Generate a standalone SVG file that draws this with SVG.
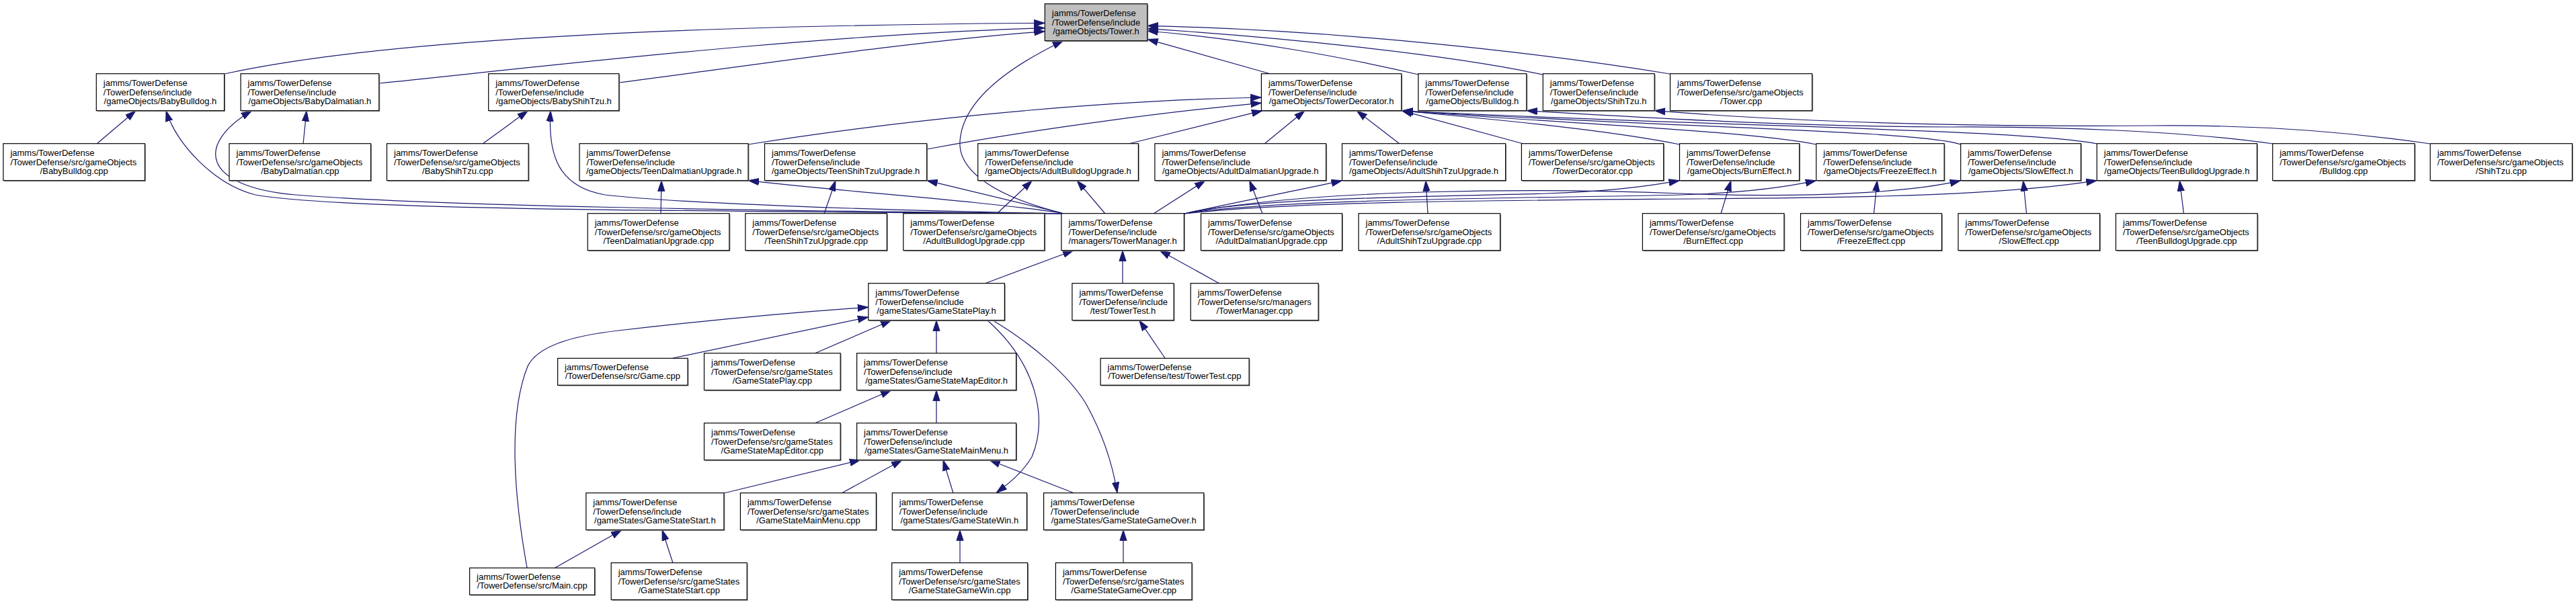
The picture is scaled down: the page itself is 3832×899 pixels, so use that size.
<svg xmlns="http://www.w3.org/2000/svg" width="3832" height="899" viewBox="0 0 3832 899">
<style>
.s{fill:#9a9a9a;stroke:none}
.b{fill:#ffffff;stroke:#000000;stroke-width:1.2}
.g{fill:#bfbfbf}
.t{font-family:"Liberation Sans",Arial,Helvetica,sans-serif;font-size:13px;fill:#000000}
.m{text-anchor:middle}
.e{fill:none;stroke:#191970;stroke-width:1.2}
</style>
<defs>
<marker id="ah" markerUnits="userSpaceOnUse" markerWidth="16" markerHeight="12" viewBox="0 0 14 9" refX="14" refY="4.5" orient="auto">
<path d="M0,0 L14,4.5 L0,9 z" fill="#191970" stroke="#191970" stroke-width="0.8"/>
</marker>
</defs>
<rect x="0" y="0" width="3832" height="899" fill="#ffffff"/>
<g id="edges" marker-end="url(#ah)">
<path class="e" marker-end="url(#ah)" d="M334,110 C560,60 1000,38 1554.3,34.3"/>
<path class="e" marker-end="url(#ah)" d="M564,124 C800,100 1200,52 1554.3,41.7"/>
<path class="e" marker-end="url(#ah)" d="M921,123 C1100,100 1350,62 1554.3,46.7"/>
<path class="e" marker-end="url(#ah)" d="M1890,110 L1706.7,58.3"/>
<path class="e" marker-end="url(#ah)" d="M2110,111 C2000,85 1850,58 1706.7,46"/>
<path class="e" marker-end="url(#ah)" d="M2295,111 C2150,80 1900,55 1706.7,42.7"/>
<path class="e" marker-end="url(#ah)" d="M2484,110 C2300,80 2000,45 1706.7,38.3"/>
<path class="e" marker-end="url(#ah)" d="M1583,318 C1470,290 1425,250 1428,210 C1432,150 1500,100 1581.7,60.7"/>
<path class="e" marker-end="url(#ah)" d="M144,214 L202,164.7"/>
<path class="e" marker-end="url(#ah)" d="M1579,318 C1000,314 500,312 380,290 C320,275 262,215 247,164.7"/>
<path class="e" marker-end="url(#ah)" d="M451,214 L456,164.7"/>
<path class="e" marker-end="url(#ah)" d="M1579,318 C1100,313 650,307 440,290 C300,278 290,215 374.7,164.7"/>
<path class="e" marker-end="url(#ah)" d="M718,214 L785.5,164.7"/>
<path class="e" marker-end="url(#ah)" d="M1579,318 C1300,313 1000,302 900,290 C830,278 815,230 819,164.7"/>
<path class="e" marker-end="url(#ah)" d="M1113,215 C1300,185 1600,150 1876.4,145"/>
<path class="e" marker-end="url(#ah)" d="M1379,222 C1550,190 1750,165 1876.4,153.3"/>
<path class="e" marker-end="url(#ah)" d="M1679,214 L1878,164.7"/>
<path class="e" marker-end="url(#ah)" d="M1881,214 L1941,164.7"/>
<path class="e" marker-end="url(#ah)" d="M2082,214 L2018,164.7"/>
<path class="e" marker-end="url(#ah)" d="M2266,214 L2085,164.7"/>
<path class="e" marker-end="url(#ah)" d="M2498.5,215 C2400,195 2250,180 2086,165"/>
<path class="e" marker-end="url(#ah)" d="M2702,215 C2600,195 2350,185 2086,165"/>
<path class="e" marker-end="url(#ah)" d="M2917,215 C2860,195 2500,190 2086,165"/>
<path class="e" marker-end="url(#ah)" d="M3120,214 C3000,192 2600,190 2086,165"/>
<path class="e" marker-end="url(#ah)" d="M3381,214 C3250,195 3050,188 2900,189 C2650,188 2450,175 2270.8,164.7"/>
<path class="e" marker-end="url(#ah)" d="M3615,214 C3450,190 3300,186 3200,187 C2900,189 2650,180 2461.2,164.7"/>
<path class="e" marker-end="url(#ah)" d="M1762,318 C1850,298 1950,280 1996.5,268.7"/>
<path class="e" marker-end="url(#ah)" d="M1762,318 C1850,295 2150,292 2300,288 C2400,285 2460,276 2498.5,268.7"/>
<path class="e" marker-end="url(#ah)" d="M1762,318 C1900,295 2300,295 2500,290 C2600,287 2660,278 2701.8,268.7"/>
<path class="e" marker-end="url(#ah)" d="M1762,318 C1950,280 2300,280 2500,288 C2700,296 2850,285 2916.7,268.7"/>
<path class="e" marker-end="url(#ah)" d="M1762,318 C2000,292 2500,300 2800,292 C2950,288 3050,280 3119.3,268.7"/>
<path class="e" marker-end="url(#ah)" d="M1579,317 C1450,298 1250,285 1113,268.7"/>
<path class="e" marker-end="url(#ah)" d="M1579,317 L1378.7,268.7"/>
<path class="e" marker-end="url(#ah)" d="M1644,318 L1602,268.7"/>
<path class="e" marker-end="url(#ah)" d="M1716,318 L1793,268.7"/>
<path class="e" marker-end="url(#ah)" d="M983,318 L984,268.7"/>
<path class="e" marker-end="url(#ah)" d="M1226,318 L1243,268.7"/>
<path class="e" marker-end="url(#ah)" d="M1483,318 L1535.5,268.7"/>
<path class="e" marker-end="url(#ah)" d="M1878,318 L1858.7,268.7"/>
<path class="e" marker-end="url(#ah)" d="M2124,318 L2121,268.7"/>
<path class="e" marker-end="url(#ah)" d="M2560,318 L2575,268.7"/>
<path class="e" marker-end="url(#ah)" d="M2787.5,318 L2792.4,268.7"/>
<path class="e" marker-end="url(#ah)" d="M3014.6,318 L3009.7,268.7"/>
<path class="e" marker-end="url(#ah)" d="M3248.5,318 L3242.4,268.7"/>
<path class="e" marker-end="url(#ah)" d="M1465,422 L1597,372.7"/>
<path class="e" marker-end="url(#ah)" d="M1670,422 L1670,372.7"/>
<path class="e" marker-end="url(#ah)" d="M1814,422 L1725,372.7"/>
<path class="e" marker-end="url(#ah)" d="M1001,533 L1291.8,472"/>
<path class="e" marker-end="url(#ah)" d="M784,845 C765,740 755,620 785,545 C800,515 850,500 920,492 C1050,477 1180,465 1291.8,457.3"/>
<path class="e" marker-end="url(#ah)" d="M1212,526 L1326,476.7"/>
<path class="e" marker-end="url(#ah)" d="M1393,526 L1393,476.7"/>
<path class="e" marker-end="url(#ah)" d="M1469,477 C1540,540 1560,620 1535,680 C1520,705 1500,720 1482,733.7"/>
<path class="e" marker-end="url(#ah)" d="M1479,478 C1540,515 1590,560 1615,600 C1640,645 1655,690 1662,733.7"/>
<path class="e" marker-end="url(#ah)" d="M1212,630 L1326,580.7"/>
<path class="e" marker-end="url(#ah)" d="M1393,630 L1393,580.7"/>
<path class="e" marker-end="url(#ah)" d="M1077,734 L1280,684.7"/>
<path class="e" marker-end="url(#ah)" d="M1252,734 L1342,684.7"/>
<path class="e" marker-end="url(#ah)" d="M1418,734 L1403,684.7"/>
<path class="e" marker-end="url(#ah)" d="M1598,734 L1472,684.7"/>
<path class="e" marker-end="url(#ah)" d="M826,845 L925,788.7"/>
<path class="e" marker-end="url(#ah)" d="M1001,838 L985,788.7"/>
<path class="e" marker-end="url(#ah)" d="M1428,838 L1428,788.7"/>
<path class="e" marker-end="url(#ah)" d="M1671,838 L1671,788.7"/>
<path class="e" marker-end="url(#ah)" d="M1733,533 L1694.7,476.7"/>
</g>
<g id="nodes">
<g id="tower_h"><rect class="s" x="1555.8" y="7.2" width="152.4" height="55"/><rect class="b g" x="1554.3" y="5.7" width="152.4" height="55"/><text class="t" x="1564.8" y="24">jamms/TowerDefense</text><text class="t" x="1564.8" y="37.5">/TowerDefense/include</text><text class="t m" x="1630.5" y="51">/gameObjects/Tower.h</text></g>
<g id="babybulldog_h"><rect class="s" x="144.8" y="111.2" width="190.3" height="55"/><rect class="b" x="143.3" y="109.7" width="190.3" height="55"/><text class="t" x="153.8" y="128">jamms/TowerDefense</text><text class="t" x="153.8" y="141.5">/TowerDefense/include</text><text class="t m" x="238.45" y="155">/gameObjects/BabyBulldog.h</text></g>
<g id="babydalmatian_h"><rect class="s" x="359.6" y="111.2" width="205.7" height="55"/><rect class="b" x="358.1" y="109.7" width="205.7" height="55"/><text class="t" x="368.6" y="128">jamms/TowerDefense</text><text class="t" x="368.6" y="141.5">/TowerDefense/include</text><text class="t m" x="460.95" y="155">/gameObjects/BabyDalmatian.h</text></g>
<g id="babyshihtzu_h"><rect class="s" x="728.2" y="111.2" width="194.1" height="55"/><rect class="b" x="726.7" y="109.7" width="194.1" height="55"/><text class="t" x="737.2" y="128">jamms/TowerDefense</text><text class="t" x="737.2" y="141.5">/TowerDefense/include</text><text class="t m" x="823.75" y="155">/gameObjects/BabyShihTzu.h</text></g>
<g id="towerdecorator_h"><rect class="s" x="1877.9" y="111.2" width="208.3" height="55"/><rect class="b" x="1876.4" y="109.7" width="208.3" height="55"/><text class="t" x="1886.9" y="128">jamms/TowerDefense</text><text class="t" x="1886.9" y="141.5">/TowerDefense/include</text><text class="t m" x="1980.55" y="155">/gameObjects/TowerDecorator.h</text></g>
<g id="bulldog_h"><rect class="s" x="2111.3" y="111.2" width="161" height="55"/><rect class="b" x="2109.8" y="109.7" width="161" height="55"/><text class="t" x="2120.3" y="128">jamms/TowerDefense</text><text class="t" x="2120.3" y="141.5">/TowerDefense/include</text><text class="t m" x="2190.3" y="155">/gameObjects/Bulldog.h</text></g>
<g id="shihtzu_h"><rect class="s" x="2296.8" y="111.2" width="165.9" height="55"/><rect class="b" x="2295.3" y="109.7" width="165.9" height="55"/><text class="t" x="2305.8" y="128">jamms/TowerDefense</text><text class="t" x="2305.8" y="141.5">/TowerDefense/include</text><text class="t m" x="2378.25" y="155">/gameObjects/ShihTzu.h</text></g>
<g id="tower_cpp"><rect class="s" x="2486" y="111.2" width="211.2" height="55"/><rect class="b" x="2484.5" y="109.7" width="211.2" height="55"/><text class="t" x="2495" y="128">jamms/TowerDefense</text><text class="t" x="2495" y="141.5">/TowerDefense/src/gameObjects</text><text class="t m" x="2590.1" y="155">/Tower.cpp</text></g>
<g id="babybulldog_cpp"><rect class="s" x="6.4" y="215.2" width="210.6" height="55"/><rect class="b" x="4.9" y="213.7" width="210.6" height="55"/><text class="t" x="15.4" y="232">jamms/TowerDefense</text><text class="t" x="15.4" y="245.5">/TowerDefense/src/gameObjects</text><text class="t m" x="110.2" y="259">/BabyBulldog.cpp</text></g>
<g id="babydalmatian_cpp"><rect class="s" x="342.5" y="215.2" width="210.6" height="55"/><rect class="b" x="341" y="213.7" width="210.6" height="55"/><text class="t" x="351.5" y="232">jamms/TowerDefense</text><text class="t" x="351.5" y="245.5">/TowerDefense/src/gameObjects</text><text class="t m" x="446.3" y="259">/BabyDalmatian.cpp</text></g>
<g id="babyshihtzu_cpp"><rect class="s" x="577" y="215.2" width="210.6" height="55"/><rect class="b" x="575.5" y="213.7" width="210.6" height="55"/><text class="t" x="586" y="232">jamms/TowerDefense</text><text class="t" x="586" y="245.5">/TowerDefense/src/gameObjects</text><text class="t m" x="680.8" y="259">/BabyShihTzu.cpp</text></g>
<g id="teendalmatianupgrade_h"><rect class="s" x="863.5" y="215.2" width="251" height="55"/><rect class="b" x="862" y="213.7" width="251" height="55"/><text class="t" x="872.5" y="232">jamms/TowerDefense</text><text class="t" x="872.5" y="245.5">/TowerDefense/include</text><text class="t m" x="987.5" y="259">/gameObjects/TeenDalmatianUpgrade.h</text></g>
<g id="teenshihtzuupgrade_h"><rect class="s" x="1139" y="215.2" width="241.2" height="55"/><rect class="b" x="1137.5" y="213.7" width="241.2" height="55"/><text class="t" x="1148" y="232">jamms/TowerDefense</text><text class="t" x="1148" y="245.5">/TowerDefense/include</text><text class="t m" x="1258.1" y="259">/gameObjects/TeenShihTzuUpgrade.h</text></g>
<g id="adultbulldogupgrade_h"><rect class="s" x="1456.2" y="215.2" width="238.7" height="55"/><rect class="b" x="1454.7" y="213.7" width="238.7" height="55"/><text class="t" x="1465.2" y="232">jamms/TowerDefense</text><text class="t" x="1465.2" y="245.5">/TowerDefense/include</text><text class="t m" x="1574.05" y="259">/gameObjects/AdultBulldogUpgrade.h</text></g>
<g id="adultdalmatianupgrade_h"><rect class="s" x="1719.4" y="215.2" width="254.7" height="55"/><rect class="b" x="1717.9" y="213.7" width="254.7" height="55"/><text class="t" x="1728.4" y="232">jamms/TowerDefense</text><text class="t" x="1728.4" y="245.5">/TowerDefense/include</text><text class="t m" x="1845.25" y="259">/gameObjects/AdultDalmatianUpgrade.h</text></g>
<g id="adultshihtzuupgrade_h"><rect class="s" x="1998" y="215.2" width="243.1" height="55"/><rect class="b" x="1996.5" y="213.7" width="243.1" height="55"/><text class="t" x="2007" y="232">jamms/TowerDefense</text><text class="t" x="2007" y="245.5">/TowerDefense/include</text><text class="t m" x="2118.05" y="259">/gameObjects/AdultShihTzuUpgrade.h</text></g>
<g id="towerdecorator_cpp"><rect class="s" x="2264.9" y="215.2" width="211.3" height="55"/><rect class="b" x="2263.4" y="213.7" width="211.3" height="55"/><text class="t" x="2273.9" y="232">jamms/TowerDefense</text><text class="t" x="2273.9" y="245.5">/TowerDefense/src/gameObjects</text><text class="t m" x="2369.05" y="259">/TowerDecorator.cpp</text></g>
<g id="burneffect_h"><rect class="s" x="2500" y="215.2" width="178.2" height="55"/><rect class="b" x="2498.5" y="213.7" width="178.2" height="55"/><text class="t" x="2509" y="232">jamms/TowerDefense</text><text class="t" x="2509" y="245.5">/TowerDefense/include</text><text class="t m" x="2587.6" y="259">/gameObjects/BurnEffect.h</text></g>
<g id="freezeeffect_h"><rect class="s" x="2703.3" y="215.2" width="190.4" height="55"/><rect class="b" x="2701.8" y="213.7" width="190.4" height="55"/><text class="t" x="2712.3" y="232">jamms/TowerDefense</text><text class="t" x="2712.3" y="245.5">/TowerDefense/include</text><text class="t m" x="2797" y="259">/gameObjects/FreezeEffect.h</text></g>
<g id="sloweffect_h"><rect class="s" x="2918.2" y="215.2" width="178.8" height="55"/><rect class="b" x="2916.7" y="213.7" width="178.8" height="55"/><text class="t" x="2927.2" y="232">jamms/TowerDefense</text><text class="t" x="2927.2" y="245.5">/TowerDefense/include</text><text class="t m" x="3006.1" y="259">/gameObjects/SlowEffect.h</text></g>
<g id="teenbulldogupgrade_h"><rect class="s" x="3120.8" y="215.2" width="238.2" height="55"/><rect class="b" x="3119.3" y="213.7" width="238.2" height="55"/><text class="t" x="3129.8" y="232">jamms/TowerDefense</text><text class="t" x="3129.8" y="245.5">/TowerDefense/include</text><text class="t m" x="3238.4" y="259">/gameObjects/TeenBulldogUpgrade.h</text></g>
<g id="bulldog_cpp"><rect class="s" x="3382.2" y="215.2" width="211.3" height="55"/><rect class="b" x="3380.7" y="213.7" width="211.3" height="55"/><text class="t" x="3391.2" y="232">jamms/TowerDefense</text><text class="t" x="3391.2" y="245.5">/TowerDefense/src/gameObjects</text><text class="t m" x="3486.35" y="259">/Bulldog.cpp</text></g>
<g id="shihtzu_cpp"><rect class="s" x="3616.7" y="215.2" width="211.2" height="55"/><rect class="b" x="3615.2" y="213.7" width="211.2" height="55"/><text class="t" x="3625.7" y="232">jamms/TowerDefense</text><text class="t" x="3625.7" y="245.5">/TowerDefense/src/gameObjects</text><text class="t m" x="3720.8" y="259">/ShihTzu.cpp</text></g>
<g id="teendalmatianupgrade_cpp"><rect class="s" x="875.7" y="319.2" width="210.7" height="55"/><rect class="b" x="874.2" y="317.7" width="210.7" height="55"/><text class="t" x="884.7" y="336">jamms/TowerDefense</text><text class="t" x="884.7" y="349.5">/TowerDefense/src/gameObjects</text><text class="t m" x="979.55" y="363">/TeenDalmatianUpgrade.cpp</text></g>
<g id="teenshihtzuupgrade_cpp"><rect class="s" x="1110.3" y="319.2" width="210.6" height="55"/><rect class="b" x="1108.8" y="317.7" width="210.6" height="55"/><text class="t" x="1119.3" y="336">jamms/TowerDefense</text><text class="t" x="1119.3" y="349.5">/TowerDefense/src/gameObjects</text><text class="t m" x="1214.1" y="363">/TeenShihTzuUpgrade.cpp</text></g>
<g id="adultbulldogupgrade_cpp"><rect class="s" x="1345.3" y="319.2" width="210" height="55"/><rect class="b" x="1343.8" y="317.7" width="210" height="55"/><text class="t" x="1354.3" y="336">jamms/TowerDefense</text><text class="t" x="1354.3" y="349.5">/TowerDefense/src/gameObjects</text><text class="t m" x="1448.8" y="363">/AdultBulldogUpgrade.cpp</text></g>
<g id="towermanager_h"><rect class="s" x="1580.4" y="319.2" width="182.5" height="55"/><rect class="b" x="1578.9" y="317.7" width="182.5" height="55"/><text class="t" x="1589.4" y="336">jamms/TowerDefense</text><text class="t" x="1589.4" y="349.5">/TowerDefense/include</text><text class="t m" x="1670.15" y="363">/managers/TowerManager.h</text></g>
<g id="adultdalmatianupgrade_cpp"><rect class="s" x="1788" y="319.2" width="210" height="55"/><rect class="b" x="1786.5" y="317.7" width="210" height="55"/><text class="t" x="1797" y="336">jamms/TowerDefense</text><text class="t" x="1797" y="349.5">/TowerDefense/src/gameObjects</text><text class="t m" x="1891.5" y="363">/AdultDalmatianUpgrade.cpp</text></g>
<g id="adultshihtzuupgrade_cpp"><rect class="s" x="2022.5" y="319.2" width="210.6" height="55"/><rect class="b" x="2021" y="317.7" width="210.6" height="55"/><text class="t" x="2031.5" y="336">jamms/TowerDefense</text><text class="t" x="2031.5" y="349.5">/TowerDefense/src/gameObjects</text><text class="t m" x="2126.3" y="363">/AdultShihTzuUpgrade.cpp</text></g>
<g id="burneffect_cpp"><rect class="s" x="2444.9" y="319.2" width="210.6" height="55"/><rect class="b" x="2443.4" y="317.7" width="210.6" height="55"/><text class="t" x="2453.9" y="336">jamms/TowerDefense</text><text class="t" x="2453.9" y="349.5">/TowerDefense/src/gameObjects</text><text class="t m" x="2548.7" y="363">/BurnEffect.cpp</text></g>
<g id="freezeeffect_cpp"><rect class="s" x="2680" y="319.2" width="210" height="55"/><rect class="b" x="2678.5" y="317.7" width="210" height="55"/><text class="t" x="2689" y="336">jamms/TowerDefense</text><text class="t" x="2689" y="349.5">/TowerDefense/src/gameObjects</text><text class="t m" x="2783.5" y="363">/FreezeEffect.cpp</text></g>
<g id="sloweffect_cpp"><rect class="s" x="2914.5" y="319.2" width="210.6" height="55"/><rect class="b" x="2913" y="317.7" width="210.6" height="55"/><text class="t" x="2923.5" y="336">jamms/TowerDefense</text><text class="t" x="2923.5" y="349.5">/TowerDefense/src/gameObjects</text><text class="t m" x="3018.3" y="363">/SlowEffect.cpp</text></g>
<g id="teenbulldogupgrade_cpp"><rect class="s" x="3149" y="319.2" width="210.6" height="55"/><rect class="b" x="3147.5" y="317.7" width="210.6" height="55"/><text class="t" x="3158" y="336">jamms/TowerDefense</text><text class="t" x="3158" y="349.5">/TowerDefense/src/gameObjects</text><text class="t m" x="3252.8" y="363">/TeenBulldogUpgrade.cpp</text></g>
<g id="gamestateplay_h"><rect class="s" x="1293.3" y="423.2" width="202.6" height="55"/><rect class="b" x="1291.8" y="421.7" width="202.6" height="55"/><text class="t" x="1302.3" y="440">jamms/TowerDefense</text><text class="t" x="1302.3" y="453.5">/TowerDefense/include</text><text class="t m" x="1393.1" y="467">/gameStates/GameStatePlay.h</text></g>
<g id="towertest_h"><rect class="s" x="1596.4" y="423.2" width="151.2" height="55"/><rect class="b" x="1594.9" y="421.7" width="151.2" height="55"/><text class="t" x="1605.4" y="440">jamms/TowerDefense</text><text class="t" x="1605.4" y="453.5">/TowerDefense/include</text><text class="t m" x="1670.5" y="467">/test/TowerTest.h</text></g>
<g id="towermanager_cpp"><rect class="s" x="1772.7" y="423.2" width="190" height="55"/><rect class="b" x="1771.2" y="421.7" width="190" height="55"/><text class="t" x="1781.7" y="440">jamms/TowerDefense</text><text class="t" x="1781.7" y="453.5">/TowerDefense/src/managers</text><text class="t m" x="1866.2" y="467">/TowerManager.cpp</text></g>
<g id="game_cpp"><rect class="s" x="831.1" y="534.8" width="193.4" height="40"/><rect class="b" x="829.6" y="533.3" width="193.4" height="40"/><text class="t" x="840.1" y="550.8">jamms/TowerDefense</text><text class="t m" x="926.3" y="564.3">/TowerDefense/src/Game.cpp</text></g>
<g id="gamestateplay_cpp"><rect class="s" x="1049" y="527.2" width="202.7" height="55"/><rect class="b" x="1047.5" y="525.7" width="202.7" height="55"/><text class="t" x="1058" y="544">jamms/TowerDefense</text><text class="t" x="1058" y="557.5">/TowerDefense/src/gameStates</text><text class="t m" x="1148.85" y="571">/GameStatePlay.cpp</text></g>
<g id="gamestatemapeditor_h"><rect class="s" x="1276.1" y="527.2" width="237" height="55"/><rect class="b" x="1274.6" y="525.7" width="237" height="55"/><text class="t" x="1285.1" y="544">jamms/TowerDefense</text><text class="t" x="1285.1" y="557.5">/TowerDefense/include</text><text class="t m" x="1393.1" y="571">/gameStates/GameStateMapEditor.h</text></g>
<g id="towertest_cpp"><rect class="s" x="1638.6" y="534.8" width="221" height="40"/><rect class="b" x="1637.1" y="533.3" width="221" height="40"/><text class="t" x="1647.6" y="550.8">jamms/TowerDefense</text><text class="t m" x="1747.6" y="564.3">/TowerDefense/test/TowerTest.cpp</text></g>
<g id="gamestatemapeditor_cpp"><rect class="s" x="1049" y="631.2" width="202.7" height="55"/><rect class="b" x="1047.5" y="629.7" width="202.7" height="55"/><text class="t" x="1058" y="648">jamms/TowerDefense</text><text class="t" x="1058" y="661.5">/TowerDefense/src/gameStates</text><text class="t m" x="1148.85" y="675">/GameStateMapEditor.cpp</text></g>
<g id="gamestatemainmenu_h"><rect class="s" x="1276.1" y="631.2" width="237" height="55"/><rect class="b" x="1274.6" y="629.7" width="237" height="55"/><text class="t" x="1285.1" y="648">jamms/TowerDefense</text><text class="t" x="1285.1" y="661.5">/TowerDefense/include</text><text class="t m" x="1393.1" y="675">/gameStates/GameStateMainMenu.h</text></g>
<g id="gamestatestart_h"><rect class="s" x="873.3" y="735.2" width="205.1" height="55"/><rect class="b" x="871.8" y="733.7" width="205.1" height="55"/><text class="t" x="882.3" y="752">jamms/TowerDefense</text><text class="t" x="882.3" y="765.5">/TowerDefense/include</text><text class="t m" x="974.35" y="779">/gameStates/GameStateStart.h</text></g>
<g id="gamestatemainmenu_cpp"><rect class="s" x="1102.9" y="735.2" width="202" height="55"/><rect class="b" x="1101.4" y="733.7" width="202" height="55"/><text class="t" x="1111.9" y="752">jamms/TowerDefense</text><text class="t" x="1111.9" y="765.5">/TowerDefense/src/gameStates</text><text class="t m" x="1202.4" y="779">/GameStateMainMenu.cpp</text></g>
<g id="gamestatewin_h"><rect class="s" x="1328.8" y="735.2" width="200.2" height="55"/><rect class="b" x="1327.3" y="733.7" width="200.2" height="55"/><text class="t" x="1337.8" y="752">jamms/TowerDefense</text><text class="t" x="1337.8" y="765.5">/TowerDefense/include</text><text class="t m" x="1427.4" y="779">/gameStates/GameStateWin.h</text></g>
<g id="gamestategameover_h"><rect class="s" x="1554.1" y="735.2" width="238.2" height="55"/><rect class="b" x="1552.6" y="733.7" width="238.2" height="55"/><text class="t" x="1563.1" y="752">jamms/TowerDefense</text><text class="t" x="1563.1" y="765.5">/TowerDefense/include</text><text class="t m" x="1671.7" y="779">/gameStates/GameStateGameOver.h</text></g>
<g id="main_cpp"><rect class="s" x="700.1" y="846.8" width="186.1" height="40"/><rect class="b" x="698.6" y="845.3" width="186.1" height="40"/><text class="t" x="709.1" y="862.8">jamms/TowerDefense</text><text class="t m" x="791.65" y="876.3">/TowerDefense/src/Main.cpp</text></g>
<g id="gamestatestart_cpp"><rect class="s" x="910.7" y="839.2" width="202" height="55"/><rect class="b" x="909.2" y="837.7" width="202" height="55"/><text class="t" x="919.7" y="856">jamms/TowerDefense</text><text class="t" x="919.7" y="869.5">/TowerDefense/src/gameStates</text><text class="t m" x="1010.2" y="883">/GameStateStart.cpp</text></g>
<g id="gamestategamewin_cpp"><rect class="s" x="1328.2" y="839.2" width="202" height="55"/><rect class="b" x="1326.7" y="837.7" width="202" height="55"/><text class="t" x="1337.2" y="856">jamms/TowerDefense</text><text class="t" x="1337.2" y="869.5">/TowerDefense/src/gameStates</text><text class="t m" x="1427.7" y="883">/GameStateGameWin.cpp</text></g>
<g id="gamestategameover_cpp"><rect class="s" x="1571.9" y="839.2" width="202.6" height="55"/><rect class="b" x="1570.4" y="837.7" width="202.6" height="55"/><text class="t" x="1580.9" y="856">jamms/TowerDefense</text><text class="t" x="1580.9" y="869.5">/TowerDefense/src/gameStates</text><text class="t m" x="1671.7" y="883">/GameStateGameOver.cpp</text></g>
</g>
</svg>
